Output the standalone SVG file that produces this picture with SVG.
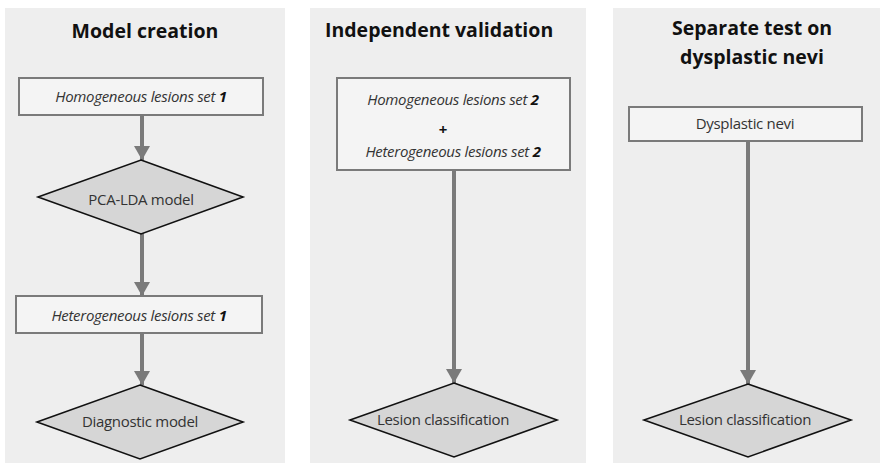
<svg xmlns="http://www.w3.org/2000/svg" width="881" height="463" viewBox="0 0 881 463">
<style>
.panel{fill:#eeeeee}
.title{font-family:"Open Sans","Liberation Sans",sans-serif;font-weight:bold;font-size:19.5px;fill:#111}
.box{fill:#f4f4f4;stroke:#7a7a7a;stroke-width:2}
.dia{fill:#d6d6d6;stroke:#111;stroke-width:1.6}
.t{font-family:"Open Sans","Liberation Sans",sans-serif;font-size:15px;fill:#333;letter-spacing:-0.3px}
.i{font-style:italic}
.b{font-weight:bold;fill:#111}
.con{stroke:#7a7a7a;stroke-width:4;fill:none}
</style>
<defs>
<marker id="ah" markerUnits="userSpaceOnUse" markerWidth="16" markerHeight="16" refX="14" refY="8" orient="auto">
<path d="M0,0 L14,8 L0,16 Z" fill="#7a7a7a"/>
</marker>
</defs>
<rect width="881" height="463" fill="#ffffff"/>
<g id="panels">
<rect class="panel" x="5" y="8" width="280" height="455"/>
<rect class="panel" x="310" y="8" width="276" height="455"/>
<rect class="panel" x="613" y="8" width="267" height="455"/>
</g>
<g id="titles">
<text class="title" x="145" y="38" text-anchor="middle">Model creation</text>
<text class="title" x="325" y="37">Independent validation</text>
<text class="title" x="752" y="35" text-anchor="middle">Separate test on</text>
<text class="title" x="752" y="64" text-anchor="middle">dysplastic nevi</text>
</g>
<g id="connectors">
<line class="con" x1="142" y1="115" x2="142" y2="160" marker-end="url(#ah)"/>
<line class="con" x1="142" y1="233" x2="142" y2="296" marker-end="url(#ah)"/>
<line class="con" x1="142" y1="333" x2="142" y2="385" marker-end="url(#ah)"/>
<line class="con" x1="454" y1="170" x2="454" y2="383" marker-end="url(#ah)"/>
<line class="con" x1="748" y1="141" x2="748" y2="384" marker-end="url(#ah)"/>
</g>
<g id="homo1">
<rect class="box" x="19" y="78" width="244" height="37"/>
<text class="t" x="141" y="102" text-anchor="middle"><tspan class="i">Homogeneous lesions set </tspan><tspan class="i b">1</tspan></text>
</g>
<g id="pca">
<polygon class="dia" points="141,160 243,197 141,234 38,197"/>
<text class="t" x="141" y="205" text-anchor="middle">PCA-LDA model</text>
</g>
<g id="hetero1">
<rect class="box" x="16" y="296" width="246" height="37"/>
<text class="t" x="139" y="321" text-anchor="middle"><tspan class="i">Heterogeneous lesions set  </tspan><tspan class="i b">1</tspan></text>
</g>
<g id="diag">
<polygon class="dia" points="140,385 243,422 140,459 37,422"/>
<text class="t" x="140" y="427" text-anchor="middle">Diagnostic model</text>
</g>
<g id="valset">
<rect class="box" x="337" y="78" width="233" height="92"/>
<text class="t" x="453" y="105" text-anchor="middle"><tspan class="i">Homogeneous lesions set  </tspan><tspan class="i b">2</tspan></text>
<text class="t b" x="443" y="135" text-anchor="middle">+</text>
<text class="t" x="453" y="157" text-anchor="middle"><tspan class="i">Heterogeneous lesions set </tspan><tspan class="i b">2</tspan></text>
</g>
<g id="lesion2">
<polygon class="dia" points="454,383 557,420 454,457 350,420"/>
<text class="t" x="443" y="425" text-anchor="middle">Lesion classification</text>
</g>
<g id="dysp">
<rect class="box" x="629" y="107" width="233" height="34"/>
<text class="t" x="745" y="129" text-anchor="middle">Dysplastic nevi</text>
</g>
<g id="lesion3">
<polygon class="dia" points="748,384 851,420 748,457 644,420"/>
<text class="t" x="745" y="425" text-anchor="middle">Lesion classification</text>
</g>
</svg>
